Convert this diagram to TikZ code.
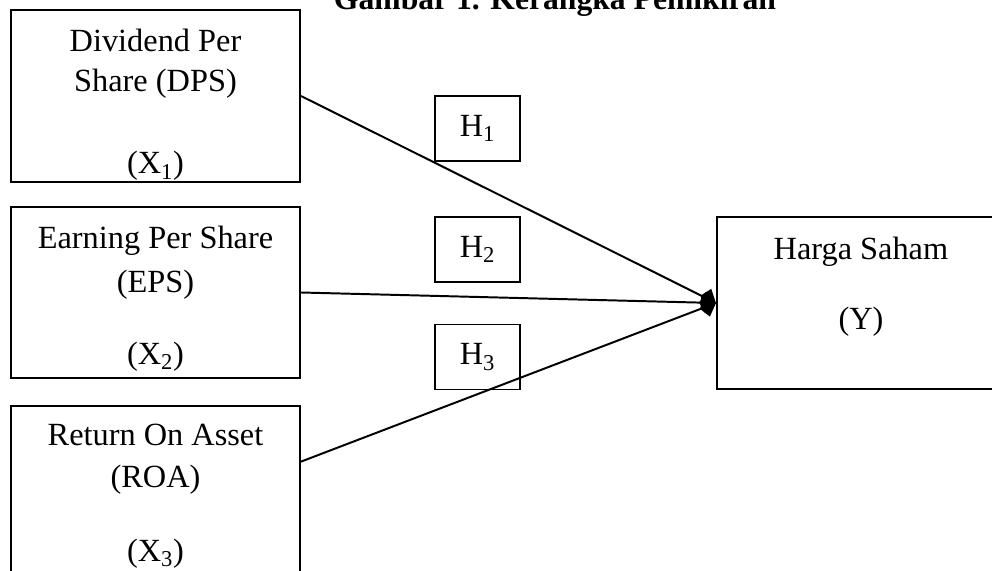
\documentclass[tikz,border=0pt]{standalone}
\usepackage{fontspec}
\setmainfont{Liberation Serif}
\usepackage{xcolor}
\usetikzlibrary{arrows.meta}
\definecolor{ink}{HTML}{000000}
\definecolor{paper}{HTML}{FFFFFF}
\tikzset{
  varbox/.style={draw=ink, line width=1.4pt, inner sep=0pt, minimum width=7.225cm},
  hbox/.style={draw=ink, line width=1.4pt, inner sep=0pt, minimum width=2.125cm, minimum height=1.625cm, font=\fontsize{23}{27}\selectfont},
  txt/.style={text=ink, inner sep=0pt, anchor=base, font=\fontsize{23}{27}\selectfont},
  ttl/.style={txt, font=\fontsize{22.5}{27}\selectfont\bfseries},
  link/.style={draw=ink, line width=1.4pt, -{Kite[length=12pt,width=15pt,inset=4.5pt]}},
}

\begin{document}
\begin{tikzpicture}[x=0.025cm, y=-0.025cm]
  \useasboundingbox[fill=paper] (0,0) rectangle (992,571);
  % title (cut at the top edge)
  \node[ttl] (title) at (555,9.5) {Gambar 1. Kerangka Pemikiran};

  % variable boxes
  \node[varbox, minimum height=4.3cm] (x1) at (155.5,96) {};
  \node[varbox, minimum height=4.275cm] (x2) at (155.5,292.5) {};
  \node[varbox, minimum height=5.85cm] (x3) at (155.5,523) {};
  \node[varbox, minimum width=7.2cm, minimum height=4.3cm] (y) at (861,303) {};

  \node[txt] (x1a) at (155.5,52) {Dividend Per};
  \node[txt] (x1b) at (155.5,92) {Share (DPS)};
  \node[txt] (x1c) at (155.5,174) {(X\textsubscript{1})};
  \node[txt] (x2a) at (155.5,248) {Earning Per Share};
  \node[txt] (x2b) at (155.5,292) {(EPS)};
  \node[txt] (x2c) at (155.5,364) {(X\textsubscript{2})};
  \node[txt] (x3a) at (155.5,445) {Return On Asset};
  \node[txt] (x3b) at (155.5,487) {(ROA)};
  \node[txt] (x3c) at (155.5,561) {(X\textsubscript{3})};
  \node[txt] (ya) at (861,259) {Harga Saham};
  \node[txt] (yb) at (861,329) {(Y)};

  % hypotheses
  \node[hbox] (h1) at (477.5,128.5) {H\textsubscript{1}};
  \node[hbox] (h2) at (477.5,249.5) {H\textsubscript{2}};
  \node[hbox] (h3) at (477.5,357) {H\textsubscript{3}};

  % links
  \coordinate (s3) at (300,462);
  \draw[link] (x1.east) -- (y.west);
  \draw[link] (x2.east) -- (y.west);
  \draw[link] (s3) -- (y.west);
\end{tikzpicture}
\end{document}
